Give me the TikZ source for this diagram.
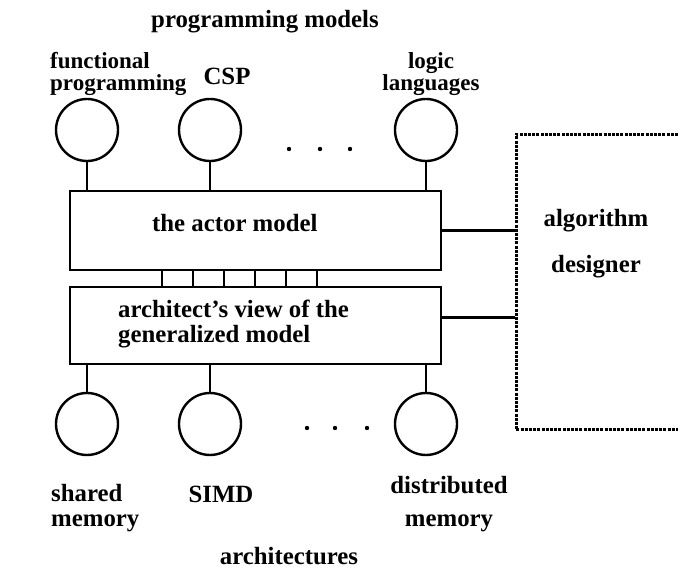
\documentclass[tikz,border=0pt]{standalone}
\usepackage{fontspec}
\setmainfont{Liberation Serif}
\usetikzlibrary{positioning}

\begin{document}
\begin{tikzpicture}[x=1pt,y=1pt,node distance={123pt},
  model/.style={draw, circle, line width=2.4pt, minimum size=62pt, inner sep=0pt},
  layer/.style={draw, line width=2.4pt, minimum width=371pt, inner sep=0pt},
  wire/.style={line width=2.4pt},
  txt/.style={inner sep=0pt, font=\bfseries\fontsize{24.8}{25}\selectfont},
  lbl/.style={inner sep=0pt, font=\bfseries\fontsize{23}{22.5}\selectfont}]
  \useasboundingbox (0,0) rectangle (678,-577);

  % programming models
  \node[model] (fp) at (87,-130) {};
  \node[model] (csp) [right of=fp] {};
  \node[model] (lg) [right of=csp, node distance=216pt] {};

  % the two layers
  \node[layer, minimum height=79pt] (actor) at (255.5,-230.5) {};
  \node[layer, minimum height=77pt] (arch) [below of=actor, node distance=95pt] {};

  % architectures
  \node[model] (sm) [below of=fp, node distance=294pt] {};
  \node[model] (simd) [below of=csp, node distance=294pt] {};
  \node[model] (dm) [below of=lg, node distance=294pt] {};

  % algorithm designer
  \node[draw, dash pattern=on 3pt off 1.2pt, line width=2.6pt, minimum width=200pt,
        minimum height=295pt, inner sep=0pt, anchor=north west] (alg) at (515,-133) {};

  % texts (multi-line nodes sit on their last baseline)
  \node[txt, anchor=base] (pmt) at (265,-28) {programming models};
  \node[lbl, anchor=base west, align=left] (fpt) at (50,-91) {functional\\programming};
  \node[txt, anchor=base] (cspt) at (227,-85) {CSP};
  \node[lbl, anchor=base, align=center] (lgt) at (431,-91) {logic\\languages};
  \node[txt, anchor=base west] (actort) at (152,-232) {the actor model};
  \node[txt, anchor=base west, align=left] (archt) at (118,-343) {architect’s view of the\\generalized model};
  \node[txt, anchor=base] (algt) at (596,-227) {algorithm};
  \node[txt, anchor=base] (dest) at (596,-273) {designer};
  \node[txt, anchor=base west, align=left] (smt) at (51,-526) {shared\\memory};
  \node[txt, anchor=base] (simdt) at (221,-503) {SIMD};
  \node[txt, anchor=base, align=center] (dmt) at (449,-526) {distributed\\[8pt]memory};
  \node[txt, anchor=base] (archs) at (289,-564) {architectures};

  % connections
  \foreach \n in {fp,csp,lg} \draw[wire] (\n) -- (\n |- actor.north);
  \foreach \n in {sm,simd,dm} \draw[wire] (\n) -- (\n |- arch.south);
  \foreach \x in {93,124,155,186,217,248}
    \draw[wire] ([xshift=\x pt]actor.south west) -- ([xshift=\x pt]arch.north west);
  \draw[wire] (actor.east) -- (actor.east -| alg.west);
  \draw[wire] ([yshift=8pt]arch.east) -- ([yshift=8pt]arch.east -| alg.west);

  % dots
  \foreach \x in {289,320,350} \fill (\x,-149) circle (2.2pt);
  \foreach \x in {307,335,367} \fill (\x,-428) circle (2.2pt);
\end{tikzpicture}
\end{document}
